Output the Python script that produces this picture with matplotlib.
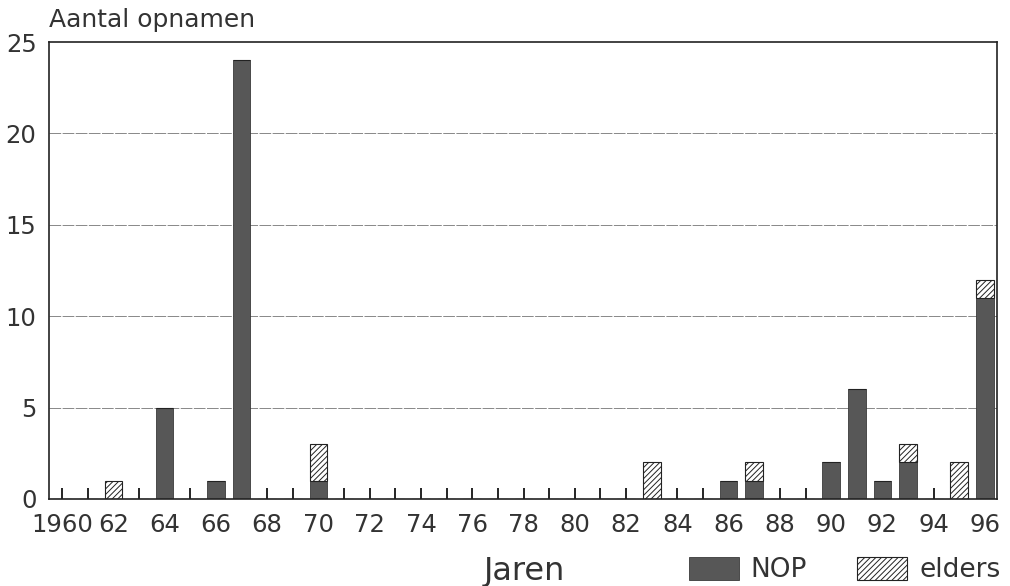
import matplotlib
matplotlib.use("Agg")
import matplotlib.pyplot as plt
from matplotlib.patches import Patch

years = list(range(1960, 1997))
nop = [0, 0, 0, 0, 5, 0, 1, 24, 0, 0, 1, 0, 0, 0, 0, 0, 0, 0, 0, 0,
       0, 0, 0, 0, 0, 0, 1, 1, 0, 0, 2, 6, 1, 2, 0, 0, 11]
elders = [0, 0, 1, 0, 0, 0, 0, 0, 0, 0, 2, 0, 0, 0, 0, 0, 0, 0, 0, 0,
          0, 0, 0, 2, 0, 0, 0, 1, 0, 0, 0, 0, 0, 1, 0, 2, 1]
tick_labels = ["1960" if y == 1960 else ("%02d" % (y % 100) if y % 2 == 0 else "")
               for y in years]

plt.rcParams['hatch.linewidth'] = 0.7

fig = plt.figure(figsize=(10.1, 5.86), dpi=100)
ax = fig.add_axes([49 / 1010, 1 - 499 / 586, 948 / 1010, 457 / 586])

dark = "#575757"
w = 0.69
ax.bar(years, nop, width=w, color=dark, edgecolor="#3a3a3a", linewidth=0.6, zorder=2)
ax.bar(years, elders, width=w, bottom=nop, color="white", edgecolor="#222222",
       hatch="//////", linewidth=0.8, zorder=2)

ax.set_xlim(1959.49, 1996.47)
ax.set_ylim(0, 25)
ax.set_yticks([0, 5, 10, 15, 20, 25])
ax.set_xticks(years)
ax.set_xticklabels(tick_labels)

for y in [5, 10, 15, 20]:
    ax.axhline(y, color="#888888", linewidth=0.7, linestyle=(0, (12, 1.5)), zorder=1)

ax.tick_params(axis="x", direction="in", length=8, width=1.2, pad=10,
               labelsize=17.5, labelcolor="#333333")
ax.tick_params(axis="y", length=0, pad=9, labelsize=17.5, labelcolor="#333333")
for s in ax.spines.values():
    s.set_linewidth(1.2)
    s.set_color("#222222")

fig.text(49 / 1010, 1 - 27 / 586, "Aantal opnamen", fontsize=18, color="#333333",
         va="baseline", ha="left")
fig.text(524 / 1010, 1 - 580 / 586, "Jaren", fontsize=23, color="#333333",
         va="baseline", ha="center")

handles = [Patch(facecolor=dark, edgecolor="#3a3a3a", linewidth=0.6, label="NOP"),
           Patch(facecolor="white", edgecolor="#222222", hatch="//////", linewidth=0.8,
                 label="elders")]
leg = fig.legend(handles=handles, ncol=2, loc="lower right",
                 bbox_to_anchor=(1003 / 1010, 0.0), frameon=False, fontsize=19,
                 handlelength=1.9, handleheight=0.95, handletextpad=0.45,
                 columnspacing=1.9, borderpad=0.1, borderaxespad=0)
for t in leg.get_texts():
    t.set_color("#333333")

fig.savefig("out.png", dpi=100)
